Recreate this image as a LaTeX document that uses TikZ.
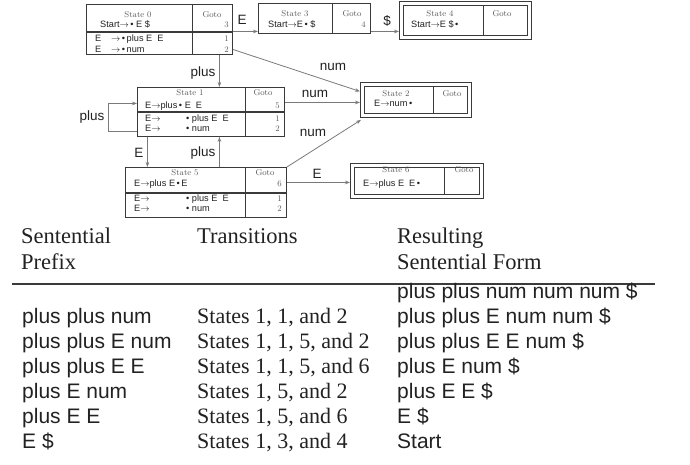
\documentclass[tikz,border=0pt]{standalone}
\usepackage{fontspec}
\newfontfamily\sansf{Liberation Sans}
\newfontfamily\serf{Liberation Serif}
\usetikzlibrary{arrows.meta}
\definecolor{boxc}{HTML}{3A3A3A}
\definecolor{arrc}{HTML}{7A7A7A}
\definecolor{txt}{HTML}{222222}
\definecolor{gtxt}{HTML}{5A5A5A}
\newcommand\gp{\hspace{5pt}}
\newcommand\bul{\textbullet}
\begin{document}
\begin{tikzpicture}[x=1pt,y=-1pt,
  box/.style={draw=boxc, line width=0.9pt, inner sep=0pt, anchor=north west},
  bl/.style={draw=boxc, line width=0.9pt},
  dl/.style={draw=boxc, line width=1.3pt},
  arr/.style={draw=arrc, line width=0.8pt, -{Stealth[length=5pt,width=3.6pt]}},
  lab/.style={font=\sansf\fontsize{13.5}{14}\selectfont, text=txt, inner sep=0pt},
  stt/.style={font=\fontsize{8.5}{9}\selectfont, text=gtxt, inner sep=0pt},
  dg/.style={stt, anchor=mid east},
  sr/.style={font=\sansf\fontsize{9.2}{10}\selectfont, text=txt, inner sep=0pt, anchor=mid west},
  hd/.style={font=\serf\fontsize{22.5}{24}\selectfont, text=txt, inner sep=0pt, anchor=mid west},
  tb/.style={font=\sansf\fontsize{21}{22}\selectfont, text=txt, inner sep=0pt, anchor=mid west},
  ts/.style={font=\serf\fontsize{22}{24}\selectfont, text=txt, inner sep=0pt, anchor=mid west}
]
\useasboundingbox[fill=white] (0,0) rectangle (690,465);

% ---------- State 0
\node[box, minimum width=146pt, minimum height=50pt] (s0) at (86,4) {};
\draw[bl] (192,4) -- (192,54);
\draw[dl] (86,32) -- (232,32);
\node[stt] (s0t) at (138,15) {State 0};
\node[stt] (s0g) at (212,15) {Goto};
\node[dg] (s0d3) at (229,25) {3};
\node[sr] (s0r0) at (100,25) {Start$\rightarrow$\,\bul\ E\ \$};
\node[sr] (s0r1a) at (95,39) {E};
\node[sr] (s0r1b) at (111,39) {$\rightarrow$\,\bul\,plus\ E\gp E};
\node[sr] (s0r2a) at (95,50) {E};
\node[sr] (s0r2b) at (111,50) {$\rightarrow$\,\bul\,num};
\node[dg] (s0d1) at (229,39) {1};
\node[dg] (s0d2) at (229,50) {2};

% ---------- State 3
\node[box, minimum width=112pt, minimum height=30pt] (s3) at (258,3) {};
\draw[bl] (332,3) -- (332,33);
\node[stt] (s3t) at (295,14) {State 3};
\node[stt] (s3g) at (352,14) {Goto};
\node[sr] (s3r) at (268,25) {Start$\rightarrow$E\,\bul\ \$};
\node[dg] (s3d) at (366,25) {4};

% ---------- State 4
\node[box, minimum width=132pt, minimum height=38pt] (s4) at (399,1) {};
\draw[bl] (403,5) rectangle (527,35);
\draw[bl] (483,5) -- (483,35);
\node[stt] (s4t) at (440,14) {State 4};
\node[stt] (s4g) at (502,14) {Goto};
\node[sr] (s4r) at (411,25) {Start$\rightarrow$E\ \$\,\bul};

% ---------- State 1
\node[box, minimum width=147pt, minimum height=49pt] (s1) at (137,87) {};
\draw[bl] (245,87) -- (245,136);
\draw[dl] (137,112) -- (284,112);
\node[stt] (s1t) at (190,93) {State 1};
\node[stt] (s1g) at (263,93) {Goto};
\node[dg] (s1d5) at (280,106) {5};
\node[sr] (s1r0) at (145,106) {E$\rightarrow$plus\,\bul\ E\gp E};
\node[sr] (s1r1a) at (145,119) {E$\rightarrow$};
\node[sr] (s1r1b) at (186,119) {\bul\ plus\ E\gp E};
\node[sr] (s1r2a) at (145,129) {E$\rightarrow$};
\node[sr] (s1r2b) at (186,129) {\bul\ num};
\node[dg] (s1d1) at (280,119) {1};
\node[dg] (s1d2) at (280,129) {2};

% ---------- State 2
\node[box, minimum width=111pt, minimum height=35pt] (s2) at (360,82) {};
\draw[bl] (364,86) rectangle (467,113);
\draw[bl] (433,86) -- (433,113);
\node[stt] (s2t) at (396,94) {State 2};
\node[stt] (s2g) at (452,94) {Goto};
\node[sr] (s2r) at (374,104) {E$\rightarrow$num\,\bul};

% ---------- State 5
\node[box, minimum width=161pt, minimum height=50pt] (s5) at (125,167) {};
\draw[bl] (245,167) -- (245,217);
\draw[dl] (125,193) -- (286,193);
\node[stt] (s5t) at (185,173) {State 5};
\node[stt] (s5g) at (265,173) {Goto};
\node[dg] (s5d6) at (282,184) {6};
\node[sr] (s5r0) at (134,184) {E$\rightarrow$plus\ E\,\bul\,E};
\node[sr] (s5r1a) at (134,199) {E$\rightarrow$};
\node[sr] (s5r1b) at (186,199) {\bul\ plus\ E\gp E};
\node[sr] (s5r2a) at (134,209) {E$\rightarrow$};
\node[sr] (s5r2b) at (186,209) {\bul\ num};
\node[dg] (s5d1) at (282,199) {1};
\node[dg] (s5d2) at (282,209) {2};

% ---------- State 6
\node[box, minimum width=133pt, minimum height=35pt] (s6) at (350,163) {};
\draw[bl] (354,167) rectangle (479,194);
\draw[bl] (444,167) -- (444,194);
\node[stt] (s6t) at (396,170) {State 6};
\node[stt] (s6g) at (464,170) {Goto};
\node[sr] (s6r) at (363,184) {E$\rightarrow$plus\ E\gp E\,\bul};

% ---------- connectors
\draw[arr] ([yshift=-2pt]s0.east) -- ([yshift=-2pt]s0.east -| s3.west);
\node[lab] (lE03) at (242,20) {E};
\draw[arr] ([yshift=-13pt]s3.east) -- ([yshift=-13pt]s3.east -| s4.west);
\node[lab] (lD34) at (387,21) {\$};
\draw[arr] ([xshift=60pt]s0.south) -- ([xshift=60pt]s0.south |- s1.north);
\node[lab] (lp01) at (203,73) {plus};
\draw[arr] ([yshift=-20pt]s0.east) -- ([yshift=8.5pt]s2.west);
\node[lab] (ln02) at (333,67) {num};
\draw[arr] ([yshift=9.5pt]s1.east) -- ([yshift=9.5pt]s1.east -| s2.west);
\node[lab] (ln12) at (315,94) {num};
\draw[arr] ([yshift=-19.5pt]s1.west) -- ++(-29,0) |- ([yshift=8.5pt]s1.west);
\node[lab] (lp11) at (92,117) {plus};
\draw[arr] ([xshift=-63.5pt]s1.south) -- ([xshift=-63.5pt]s1.south |- s5.north);
\node[lab] (lE15) at (139,153) {E};
\draw[arr] ([xshift=13.5pt]s5.north) -- ([xshift=13.5pt]s5.north |- s1.south);
\node[lab] (lp51) at (203,153) {plus};
\draw[arr] (s5.north east) -- ([xshift=1pt,yshift=-2pt]s2.south west);
\node[lab] (ln52) at (313,133) {num};
\draw[arr] ([yshift=10pt]s5.east) -- ([yshift=10pt]s5.east -| s6.west);
\node[lab] (lE56) at (317,174) {E};

% ---------- table
\node[hd] (h1a) at (21,241) {Sentential};
\node[hd] (h1b) at (21,267) {Prefix};
\node[hd] (h2) at (197,241) {Transitions};
\node[hd] (h3a) at (397,241) {Resulting};
\node[hd] (h3b) at (397,267) {Sentential Form};
\draw[draw=boxc, line width=1.3pt] (12,284) -- (655,284);

\node[tb] (c0) at (397,296) {plus plus num num num \$};
\node[tb] (a1) at (22,321) {plus plus num};
\node[ts] (b1) at (197,321) {States 1, 1, and 2};
\node[tb] (c1) at (397,321) {plus plus E num num \$};
\node[tb] (a2) at (22,346) {plus plus E num};
\node[ts] (b2) at (197,346) {States 1, 1, 5, and 2};
\node[tb] (c2) at (397,346) {plus plus E E num \$};
\node[tb] (a3) at (22,371) {plus plus E E};
\node[ts] (b3) at (197,371) {States 1, 1, 5, and 6};
\node[tb] (c3) at (397,371) {plus E num \$};
\node[tb] (a4) at (22,396) {plus E num};
\node[ts] (b4) at (197,396) {States 1, 5, and 2};
\node[tb] (c4) at (397,396) {plus E E \$};
\node[tb] (a5) at (22,421) {plus E E};
\node[ts] (b5) at (197,421) {States 1, 5, and 6};
\node[tb] (c5) at (397,421) {E \$};
\node[tb] (a6) at (22,446) {E \$};
\node[ts] (b6) at (197,446) {States 1, 3, and 4};
\node[tb] (c6) at (397,446) {Start};
\end{tikzpicture}
\end{document}
